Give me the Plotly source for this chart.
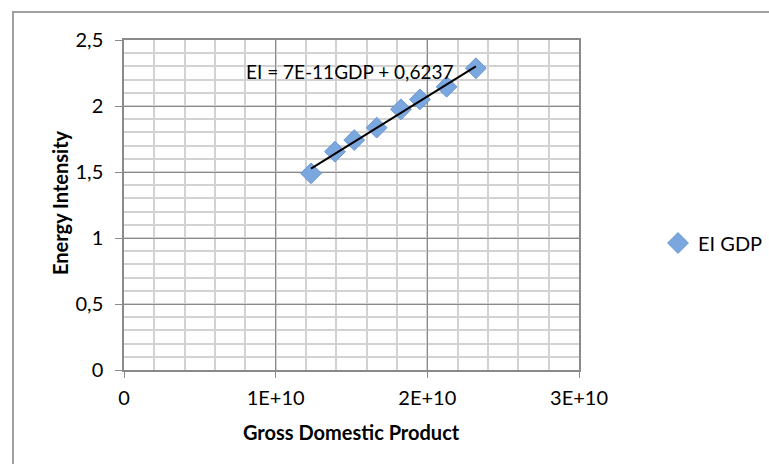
import numpy as np
import plotly.graph_objects as go

# Gross domestic product vs. energy intensity
gdp = [1.233e10, 1.391e10, 1.518e10, 1.666e10, 1.826e10, 1.951e10, 2.127e10, 2.320e10]
ei = [1.49, 1.654, 1.742, 1.836, 1.975, 2.05, 2.146, 2.286]
series_name = "EI GDP"
equation_text = "EI = 7E-11GDP + 0,6237"
x_title = "Gross Domestic Product"
y_title = "Energy Intensity"

x_tickvals = [0, 1e10, 2e10, 3e10]
x_ticktext = ["0", "1E+10", "2E+10", "3E+10"]
y_tickvals = [0, 0.5, 1, 1.5, 2, 2.5]
y_ticktext = ["0", "0,5", "1", "1,5", "2", "2,5"]

FONT = "Lato"
FS = 20
MAJOR = "#8a8a8a"
MINOR = "#d2d2d2"

# linear trendline fitted to the series
slope, intercept = np.polyfit(gdp, ei, 1)
trend_x = np.array([min(gdp), max(gdp)])
trend_y = slope * trend_x + intercept

fig = go.Figure()
fig.add_trace(go.Scatter(
    x=gdp, y=ei, mode="markers", name=series_name,
    marker=dict(symbol="diamond", size=16, color="#7ba7df",
                line=dict(color="#6a96d2", width=1)),
))
fig.add_trace(go.Scatter(
    x=trend_x, y=trend_y, mode="lines", showlegend=False,
    line=dict(color="black", width=2),
))

fig.add_annotation(
    x=1.49e10, y=2.26, xref="x", yref="y", text=equation_text,
    showarrow=False, font=dict(family=FONT, size=19, color="black"),
)

# axis titles
fig.add_annotation(
    x=(351 - 124) / 455, y=(370 - 432) / 330, xref="paper", yref="paper",
    text=f"<b>{x_title}</b>", showarrow=False, xanchor="center", yanchor="middle",
    font=dict(family=FONT, size=FS, color="black"),
)
fig.add_annotation(
    x=(60 - 124) / 455, y=(370 - 203) / 330, xref="paper", yref="paper",
    text=f"<b>{y_title}</b>", showarrow=False, textangle=-90,
    xanchor="center", yanchor="middle",
    font=dict(family=FONT, size=FS, color="black"),
)

# outer chart frame
fig.add_shape(type="rect", xref="paper", yref="paper",
              x0=(13 - 124) / 455, x1=2.0, y0=-1.0, y1=(370 - 12) / 330,
              line=dict(color="#a0a0a0", width=2), fillcolor="rgba(0,0,0,0)",
              layer="below")

axis_common = dict(
    showline=True, linecolor=MAJOR, linewidth=1.5, mirror=True,
    showgrid=True, gridcolor=MAJOR, gridwidth=1,
    ticks="outside", tickcolor=MAJOR, zeroline=False,
    tickfont=dict(family=FONT, size=FS, color="black"),
    automargin=False, ticklabelposition="outside",
)

fig.update_xaxes(
    range=[0, 3e10], tickvals=x_tickvals, ticktext=x_ticktext, ticklen=6,
    ticklabelstandoff=3,
    minor=dict(dtick=2e9, showgrid=True, gridcolor=MINOR, gridwidth=2, ticks=""),
    **axis_common,
)
fig.update_yaxes(
    range=[0, 2.5], tickvals=y_tickvals, ticktext=y_ticktext, ticklen=7,
    ticklabelstandoff=8,
    minor=dict(dtick=0.1, showgrid=True, gridcolor=MINOR, gridwidth=2, ticks=""),
    **axis_common,
)

fig.update_layout(
    width=769, height=464,
    margin=dict(l=124, r=190, t=40, b=94, autoexpand=False),
    paper_bgcolor="white", plot_bgcolor="white",
    font=dict(family=FONT, size=FS, color="black"),
    legend=dict(xref="container", yref="container", x=658 / 769, y=1 - 243 / 464,
                yanchor="middle", xanchor="left", itemwidth=30,
                font=dict(family=FONT, size=FS), bgcolor="rgba(0,0,0,0)"),
)

fig.write_html("out.html")
